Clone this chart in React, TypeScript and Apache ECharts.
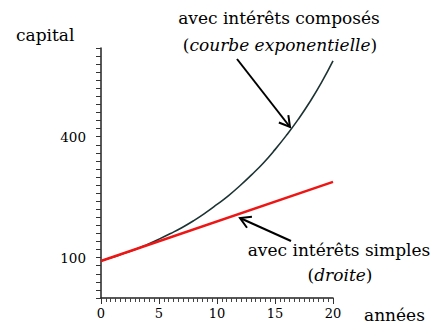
import React, { useEffect, useRef } from 'react';
import * as echarts from 'echarts';

// Years (x axis)
const years = [0, 1, 2, 3, 4, 5, 6, 7, 8, 9, 10, 11, 12, 13, 14, 15, 16, 17, 18, 19, 20];
// Capital with compound interest
const compound = [92, 101, 111, 121, 133, 146, 160, 175, 192, 211, 232, 254, 279, 306, 335, 368, 404, 443, 486, 534, 588];
// Capital with simple interest (straight line end points)
const simpleYears = [0, 20];
const simple = [92, 288];
// Y tick labels shown
const yLabels = [100, 400];
const xLabels = [0, 5, 10, 15, 20];

const SERIF = 'DejaVu Serif';
const FS = 17;

function arrow(x1: number, y1: number, x2: number, y2: number) {
  const dx = x2 - x1;
  const dy = y2 - y1;
  const len = Math.sqrt(dx * dx + dy * dy);
  const ux = dx / len;
  const uy = dy / len;
  const L = 12;
  const a = Math.PI / 6;
  const c = Math.cos(a);
  const s = Math.sin(a);
  const w1 = [x2 - L * (ux * c - uy * s), y2 - L * (uy * c + ux * s)];
  const w2 = [x2 - L * (ux * c + uy * s), y2 - L * (uy * c - ux * s)];
  return [
    { type: 'line', shape: { x1, y1, x2, y2 }, style: { stroke: '#000', lineWidth: 2 } },
    {
      type: 'polyline',
      shape: { points: [w1, [x2, y2], w2] },
      style: { stroke: '#000', lineWidth: 2, fill: null },
    },
  ];
}

function txt(text: string, x: number, y: number, align: string, rich?: any) {
  return {
    type: 'text',
    x,
    y,
    style: {
      text,
      fill: '#000',
      fontFamily: SERIF,
      fontSize: FS,
      align,
      verticalAlign: 'middle',
      rich,
    },
  };
}

export default function App() {
  const ref = useRef<HTMLDivElement>(null);
  useEffect(() => {
    const chart = echarts.init(ref.current!, null, { renderer: 'svg' });
    const italic = {
      i: { fontStyle: 'italic', fontFamily: SERIF, fontSize: FS, fill: '#000' },
    };
    chart.setOption({
      animation: false,
      backgroundColor: '#fff',
      grid: { left: 101, top: 48, width: 232, height: 250 },
      xAxis: {
        type: 'value',
        min: 0,
        max: 20,
        interval: 5,
        axisLine: { show: true, onZero: false, lineStyle: { color: '#222', width: 1.5 } },
        axisTick: { show: true, length: 6, lineStyle: { color: '#333' } },
        minorTick: { show: true, splitNumber: 12, length: 4, lineStyle: { color: '#444' } },
        splitLine: { show: false },
        axisLabel: {
          margin: 9,
          color: '#000',
          fontFamily: SERIF,
          fontSize: 13,
          formatter: (v: number) => (xLabels.includes(v) ? String(v) : ''),
        },
      },
      yAxis: {
        type: 'value',
        min: 0,
        max: 620,
        interval: 20,
        axisLine: { show: true, onZero: false, lineStyle: { color: '#222', width: 1.5 } },
        axisTick: { show: true, length: 5, lineStyle: { color: '#333' } },
        splitLine: { show: false },
        axisLabel: {
          margin: 15,
          color: '#000',
          fontFamily: SERIF,
          fontSize: 13.5,
          formatter: (v: number) => (yLabels.includes(v) ? String(v) : ''),
        },
      },
      series: [
        {
          type: 'line',
          data: years.map((y, i) => [y, compound[i]]),
          smooth: true,
          symbol: 'none',
          lineStyle: { color: '#1d3333', width: 1.6 },
        },
        {
          type: 'line',
          data: simpleYears.map((y, i) => [y, simple[i]]),
          symbol: 'none',
          lineStyle: { color: '#ee1515', width: 2.6 },
        },
      ],
      graphic: [
        txt('capital', 16, 35, 'left'),
        txt('avec intérêts composés', 279, 18, 'center'),
        txt('({i|courbe exponentielle})', 280, 45, 'center', italic),
        txt('avec intérêts simples', 339, 250, 'center'),
        txt('({i|droite})', 340, 275, 'center', italic),
        txt('années', 364, 315, 'left'),
        ...arrow(237, 59, 290, 127),
        ...arrow(291, 241, 240, 218),
      ],
    });
    return () => chart.dispose();
  }, []);
  return (
    <div
      ref={ref}
      style={{ position: 'fixed', left: 0, top: 0, width: 431, height: 328, background: '#fff' }}
    />
  );
}
